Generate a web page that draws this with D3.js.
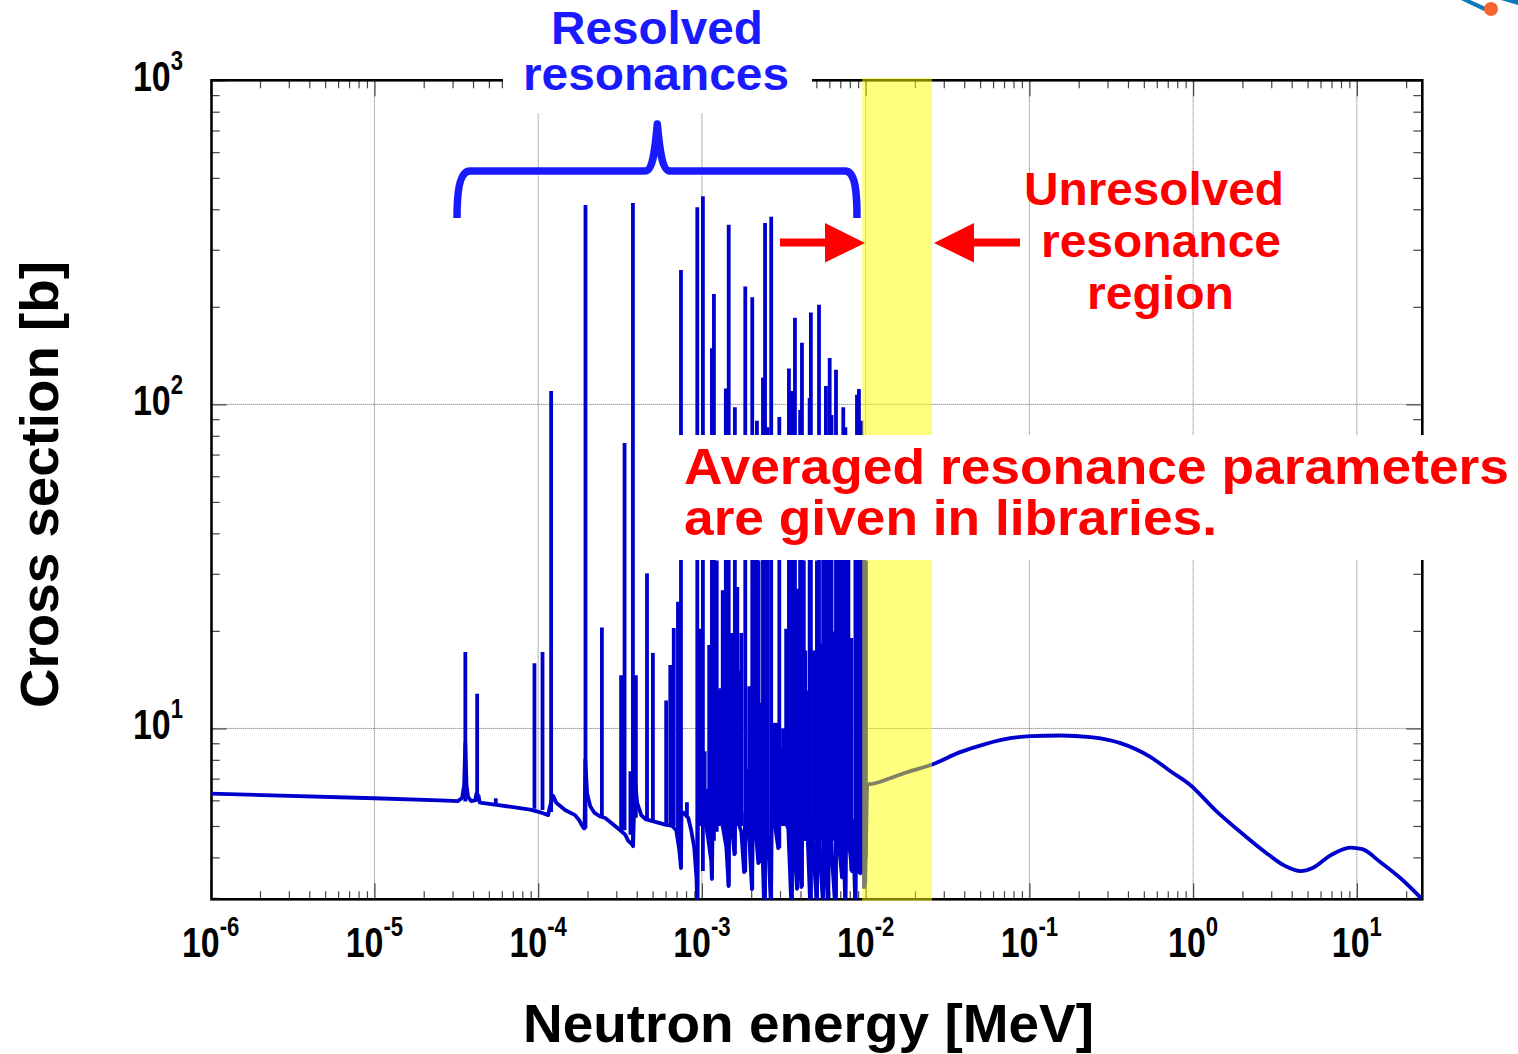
<!DOCTYPE html>
<html>
<head>
<meta charset="utf-8">
<title>Neutron cross section</title>
<script src="https://cdn.jsdelivr.net/npm/d3@7"></script>
<style>
	html, body { margin: 0; padding: 0; background: #fff; }
	svg { display: block; }
	text { font-family: "Liberation Sans", Arial, sans-serif; font-weight: bold; }
</style>
</head>
<body>
<svg id="chart" width="1518" height="1054"></svg>
<script>
// tick labels, as powers of ten
var xTickPowers = [-6, -5, -4, -3, -2, -1, 0, 1];
var yTickPowers = [1, 2, 3];

// energy band of the unresolved resonance region [MeV]
var unresolvedBand = [9.53e-3, 2.54e-2];

// resolved range of the curve, with the shoulders and the approach to each dip
var curveEnergy = [
	1e-6, 1e-5, 2.51e-5, 3.24e-5, 3.43e-5, 3.53e-5, 3.59e-5, 3.65e-5, 3.73e-5, 3.90e-5, 4.12e-5, 4.2e-5, 4.32e-5, 4.4e-5,
	5.45e-5, 8.93e-5, 9.8e-5, 1.04e-4, 1.151e-4, 1.175e-4, 1.235e-4, 1.29e-4, 1.46e-4, 1.68e-4, 1.78e-4, 1.86e-4,
	1.9e-4, 1.92e-4, 1.94e-4, 1.99e-4, 2.08e-4, 2.2e-4, 2.39e-4, 2.57e-4, 3.17e-4, 3.4e-4, 3.55e-4, 3.72e-4, 3.8e-4,
	3.9e-4, 4.02e-4, 4.26e-4, 4.52e-4, 5.19e-4, 5.97e-4, 6.59e-4, 6.97e-4, 7.28e-4, 7.45e-4, 7.5e-4, 7.69e-4, 8.25e-4,
	8.6e-4, 8.97e-4, 9.25e-4, 9.39e-4, 9.45e-4, 1.03e-3, 1.09e-3, 1.14e-3, 1.151e-3, 1.165e-3, 1.33e-3, 1.41e-3,
	1.455e-3, 1.47e-3, 1.554e-3, 1.58e-3, 1.6e-3, 1.74e-3, 1.81e-3, 1.84e-3, 1.945e-3, 2.02e-3, 2.05e-3, 2.15e-3,
	2.21e-3, 2.25e-3, 2.335e-3, 2.4e-3, 2.43e-3, 2.54e-3, 2.64e-3, 2.67e-3, 2.8e-3, 2.925e-3, 2.97e-3, 3.18e-3, 3.37e-3,
	3.52e-3, 3.57e-3, 3.81e-3, 3.85e-3, 4.05e-3, 4.1e-3, 4.4e-3, 4.59e-3, 4.66e-3, 5.04e-3, 5.1e-3, 5.5e-3, 5.6e-3,
	5.9e-3, 6e-3, 6.52e-3, 6.62e-3, 7.17e-3, 7.25e-3, 7.52e-3, 7.62e-3, 8.25e-3, 8.34e-3, 8.66e-3, 8.76e-3, 9.28e-3,
	9.42e-3, 9.94e-3, 1.02e-2
];
var curveSigma = [
	6.29, 6.09, 6.0, 5.97, 6.1, 6.68, 9, 6.7, 6.15, 5.97, 6.0, 6.3, 6.2, 5.9,
	5.82, 5.62, 5.55, 5.5, 5.4, 5.7, 6.2, 5.9, 5.6, 5.4, 5.21, 5.0,
	4.92, 4.92, 8, 6.3, 5.75, 5.5, 5.35, 5.29, 4.85, 4.7, 4.5, 4.4, 4.33,
	7, 5.9, 5.4, 5.25, 5.15, 5.05, 5.0, 4.85, 4.2, 3.71, 5.4, 5.5, 5.3,
	4.85, 4.3, 3.5, 2.8, 5.5, 5.5, 4.6, 3.9, 3.43, 5.5, 5.1, 4.3,
	3.26, 5.5, 4.5, 4.09, 5.5, 4.8, 3.6, 5.5, 4.6, 3.19, 5.4, 4.6,
	3.84, 5.4, 4.5, 2.8, 5.4, 4.5, 2.8, 5.6, 5.0, 4.27, 6.0, 5.3, 4.9,
	2.8, 5.4, 3.2, 5.4, 3.24, 5.4, 5.0, 2.8, 5.4, 2.8, 5.4, 2.8, 5.4,
	2.8, 5.4, 2.8, 5.4, 3.47, 5.4, 2.8, 5.4, 3.63, 5.2, 2.8, 5.2, 3.57,
	5.2, 3.32, 6.75
];

// smooth range above the resonances
var smoothEnergy = [
	1.02e-2, 1.037e-2, 1.41e-2, 1.745e-2, 2.55e-2, 3.78e-2, 5.37e-2, 7.65e-2, 1.014e-1, 1.55e-1,
	2.36e-1, 3.6e-1, 5.5e-1, 7.27e-1, 9.64e-1, 1.37, 1.945, 2.76, 3.66, 4.53, 5.36, 6.9, 9.15, 10.8, 13.9, 18.5, 25.1
];
var smoothSigma = [
	6.75, 6.73, 7.02, 7.30, 7.74, 8.45, 8.95, 9.33, 9.47, 9.51,
	9.40, 9.01, 8.16, 7.38, 6.68, 5.59, 4.79, 4.15, 3.76, 3.63, 3.71, 4.06, 4.29, 4.24, 3.87, 3.45, 2.97
];

// resolved resonances: energy [MeV], top of the peak and foot of the stem [b]
var resonanceEnergy = [
	3.59e-5, 4.24e-5, 5.51e-5, 9.49e-5, 1.063e-4, 1.2e-4, 1.945e-4, 2.45e-4, 3.21e-4, 3.37e-4, 3.66e-4, 3.79e-4, 3.95e-4,
	4.62e-4, 5.02e-4, 6.05e-4, 6.41e-4, 6.73e-4, 7.14e-4, 7.45e-4, 8.1e-4, 9.37e-4, 9.66e-4, 1.014e-3, 1.108e-3, 1.151e-3,
	1.184e-3, 1.294e-3, 1.34e-3, 1.40e-3, 1.458e-3, 1.525e-3, 1.59e-3, 1.645e-3, 1.74e-3, 1.84e-3, 1.945e-3, 2.03e-3,
	2.168e-3, 2.27e-3, 2.36e-3, 2.43e-3, 2.52e-3, 2.65e-3, 2.80e-3, 2.97e-3, 3.09e-3, 3.27e-3, 3.40e-3, 3.547e-3, 3.70e-3,
	3.82e-3, 3.98e-3, 4.083e-3, 4.28e-3, 4.55e-3, 4.63e-3, 4.84e-3, 5.04e-3, 5.19e-3, 5.36e-3, 5.5e-3, 5.72e-3, 5.9e-3,
	6.03e-3, 6.19e-3, 6.34e-3, 6.59e-3, 6.80e-3, 7e-3, 7.3e-3, 7.52e-3, 7.85e-3, 8.18e-3, 8.66e-3, 8.854e-3, 9.1e-3,
	9.28e-3, 9.42e-3, 9.63e-3, 9.79e-3, 1.004e-2,
	1.232e-3, 1.69e-3, 2.1e-3, 2.22e-3, 2.88e-3, 4.19e-3, 4.4e-3, 1.04e-3, 1.07e-3, 1.263e-3, 1.906e-3, 2.71e-3, 3.13e-3
];
var resonanceTop = [
	17.2, 12.8, 6.09, 15.9, 17.2, 110, 412, 20.5, 14.6, 76, 7.38, 418, 14.6,
	30.1, 17.1, 12.2, 15.7, 20.4, 24.6, 260, 5.92, 406, 20.3, 439, 18.1, 149,
	219, 13.3, 26.7, 112, 358, 19.7, 98, 27.3, 19.7, 231, 13.5, 214,
	89, 12, 121, 363, 85, 379, 10.4, 91.4, 8.7, 20.3, 129, 110, 185,
	27, 96, 155, 17.4, 104.6, 192, 17.4, 33, 203, 18.3, 35, 114, 60,
	139, 92.7, 19.9, 128, 40, 40, 98, 85, 40, 19, 40, 107, 111.5,
	60, 89, 40, 40, 33,
	33, 15.1, 40, 33, 10.4, 33, 13.1, 8.5, 6.5, 13, 7.5, 10.4, 10
];
var resonanceFoot = [
	5.95, 5.95, 5.8, 5.65, 5.6, 5.52, 4.92, 5.3, 4.8, 4.85, 4.7, 4.33, 5.3,
	5.25, 5.2, 5.1, 5.05, 5.0, 4.6, 3.71, 5.3, 2.8, 5.0, 3.63, 4.5, 3.43,
	4.5, 5.0, 5.0, 4.5, 3.26, 4.8, 4.09, 5.0, 5.0, 3.6, 4.5, 3.19,
	4.4, 3.84, 4.0, 2.8, 4.0, 2.8, 5.0, 4.27, 5.0, 5.0, 4.5, 2.8, 4.0,
	3.2, 4.0, 3.24, 4.5, 3.9, 2.8, 4.5, 2.8, 4.0, 4.5, 2.8, 4.0, 2.8,
	4.0, 4.0, 4.5, 2.8, 4.5, 4.5, 3.47, 2.8, 4.5, 3.63, 2.8, 4.0, 3.57,
	3.57, 4.0, 3.6, 3.2, 4.0,
	4.8, 5.0, 4.5, 4.5, 5.0, 4.5, 4.5, 5.0, 5.0, 5.0, 5.0, 5.0, 5.0
];

var svg = d3.select("#chart");

var margin = {top: 80.3, right: 1422.3, bottom: 899.3, left: 210.7};

var xScale = d3.scaleLog().domain([1e-6, 25.1]).range([margin.left, margin.right]);
var yScale = d3.scaleLog().domain([2.97, 1000]).range([margin.bottom, margin.top]);

/**
* grid lines on the decades
* @returns {undefined}
*/
var drawGrid = function() {
	var grid = svg.append("g")
		.attr("stroke", "#666")
		.attr("stroke-width", 1)
		.attr("stroke-dasharray", "1 1");

	grid.selectAll(".grid-x")
		.data(xTickPowers.slice(1))
		.enter()
		.append("line")
		.attr("x1", function(d) { return xScale(Math.pow(10, d)); })
		.attr("x2", function(d) { return xScale(Math.pow(10, d)); })
		.attr("y1", margin.top)
		.attr("y2", margin.bottom);

	grid.selectAll(".grid-y")
		.data(yTickPowers.slice(0, 2))
		.enter()
		.append("line")
		.attr("x1", margin.left)
		.attr("x2", margin.right)
		.attr("y1", function(d) { return yScale(Math.pow(10, d)); })
		.attr("y2", function(d) { return yScale(Math.pow(10, d)); });
};

/**
* inward ticks on the four sides of the frame
* @returns {undefined}
*/
var drawAxes = function() {
	var decadeMarks = [2, 3, 4, 5, 6, 7, 8, 9];
	var xMajor = [], xMinor = [], yMajor = [], yMinor = [];

	xTickPowers.forEach(function(p) {
		xMajor.push(Math.pow(10, p));
		decadeMarks.forEach(function(m) {
			if (m * Math.pow(10, p) < xScale.domain()[1]) {
				xMinor.push(m * Math.pow(10, p));
			}
		});
	});
	[0].concat(yTickPowers).forEach(function(p) {
		if (p > 0) {
			yMajor.push(Math.pow(10, p));
		}
		decadeMarks.forEach(function(m) {
			var v = m * Math.pow(10, p);
			if (v > yScale.domain()[0] && v < yScale.domain()[1]) {
				yMinor.push(v);
			}
		});
	});

	var addAxis = function(axis, transform, ticks, size) {
		var g = svg.append("g")
			.attr("transform", transform)
			.call(axis.tickValues(ticks).tickSize(size).tickFormat(""));
		g.select(".domain").remove();
		g.selectAll("line").attr("stroke", "#444").attr("stroke-width", 1.2);
	};

	addAxis(d3.axisBottom(xScale), "translate(0," + margin.bottom + ")", xMinor, -8);
	addAxis(d3.axisBottom(xScale), "translate(0," + margin.bottom + ")", xMajor, -16);
	addAxis(d3.axisTop(xScale), "translate(0," + margin.top + ")", xMinor, -8);
	addAxis(d3.axisTop(xScale), "translate(0," + margin.top + ")", xMajor, -16);
	addAxis(d3.axisLeft(yScale), "translate(" + margin.left + ",0)", yMinor, -9);
	addAxis(d3.axisLeft(yScale), "translate(" + margin.left + ",0)", yMajor, -16);
	addAxis(d3.axisRight(yScale), "translate(" + margin.right + ",0)", yMinor, -9);
	addAxis(d3.axisRight(yScale), "translate(" + margin.right + ",0)", yMajor, -16);

	// the frame's left edge sits a little inside the first decade
	svg.append("rect")
		.attr("x", margin.left + 0.8)
		.attr("y", margin.top)
		.attr("width", margin.right - margin.left - 0.8)
		.attr("height", margin.bottom - margin.top)
		.attr("fill", "none")
		.attr("stroke", "#000")
		.attr("stroke-width", 2.6);
};

/**
* cross section: the lines and a vertical stem per resonance
* @returns {undefined}
*/
var drawCurve = function() {
	svg.append("clipPath")
		.attr("id", "plot-clip")
		.append("rect")
		.attr("x", margin.left)
		.attr("y", margin.top)
		.attr("width", margin.right - margin.left)
		.attr("height", margin.bottom - margin.top);

	var plot = svg.append("g").attr("clip-path", "url(#plot-clip)");

	var curveLine = d3.line()
		.x(function(d) { return xScale(d); })
		.y(function(d, i) { return yScale(curveSigma[i]); });

	var smoothLine = d3.line()
		.curve(d3.curveMonotoneX)
		.x(function(d) { return xScale(d); })
		.y(function(d, i) { return yScale(smoothSigma[i]); });

	plot.append("path")
		.datum(curveEnergy)
		.attr("fill", "none")
		.attr("stroke", "#0000cc")
		.attr("stroke-width", 3.8)
		.attr("stroke-linejoin", "round")
		.attr("d", curveLine);

	plot.append("path")
		.datum(smoothEnergy)
		.attr("fill", "none")
		.attr("stroke", "#0000cc")
		.attr("stroke-width", 3.8)
		.attr("d", smoothLine);

	plot.selectAll(".stem")
		.data(resonanceEnergy)
		.enter()
		.append("line")
		.attr("class", "stem")
		.attr("x1", function(d) { return xScale(d); })
		.attr("x2", function(d) { return xScale(d); })
		.attr("y1", function(d, i) { return yScale(resonanceFoot[i]); })
		.attr("y2", function(d, i) { return yScale(resonanceTop[i]); })
		.attr("stroke", "#0000cc")
		.attr("stroke-width", 3.8);
};

/**
* yellow band and the white boxes that sit behind the annotations
* @returns {undefined}
*/
var drawOverlays = function() {
	svg.append("rect")
		.attr("x", xScale(unresolvedBand[0]))
		.attr("y", 78)
		.attr("width", xScale(unresolvedBand[1]) - xScale(unresolvedBand[0]))
		.attr("height", 823)
		.attr("fill", "#ffff00")
		.attr("fill-opacity", 0.5);

	svg.append("rect").attr("x", 503).attr("y", 0).attr("width", 309).attr("height", 113).attr("fill", "#fff");
	svg.append("rect").attr("x", 678).attr("y", 435).attr("width", 840).attr("height", 125).attr("fill", "#fff");
};

/**
* one "10^n" label, squeezed horizontally like the reference
* @returns {undefined}
*/
var addPowerLabel = function(x, y, power, anchor) {
	var label = svg.append("text")
		.attr("transform", "translate(" + x + "," + y + ") scale(0.79,1)")
		.attr("text-anchor", anchor)
		.attr("font-size", 43)
		.attr("fill", "#000");
	label.append("tspan").text("10");
	label.append("tspan")
		.attr("font-size", 28)
		.attr("dy", -21)
		.text(power);
};

/**
* text fitted to the width measured in the reference
* @returns {undefined}
*/
var addText = function(str, x, y, width, size, color) {
	return svg.append("text")
		.attr("x", x)
		.attr("y", y)
		.attr("font-size", size)
		.attr("fill", color)
		.attr("textLength", width)
		.attr("lengthAdjust", "spacingAndGlyphs")
		.text(str);
};

var drawLabels = function() {
	xTickPowers.forEach(function(p) {
		addPowerLabel(xScale(Math.pow(10, p)), 957, p, "middle");
	});
	yTickPowers.forEach(function(p) {
		addPowerLabel(183, yScale(Math.pow(10, p)) + 11, p, "end");
	});

	addText("Neutron energy [MeV]", 523, 1042, 571, 54, "#000");

	svg.append("text")
		.attr("transform", "translate(58,708) rotate(-90)")
		.attr("font-size", 54)
		.attr("textLength", 447)
		.attr("lengthAdjust", "spacingAndGlyphs")
		.attr("fill", "#000")
		.text("Cross section [b]");

	addText("Resolved", 551, 44, 212, 46, "#1a1aff");
	addText("resonances", 523, 90, 266, 46, "#1a1aff");
	addText("Unresolved", 1024, 205, 260, 46, "#ff0000");
	addText("resonance", 1041, 257, 240, 46, "#ff0000");
	addText("region", 1087, 309, 147, 46, "#ff0000");
	addText("Averaged resonance parameters", 684, 484, 825, 50, "#ff0000");
	addText("are given in libraries.", 684, 535, 533, 50, "#ff0000");
};

/**
* brace, arrows and the bit of logo in the corner
* @returns {undefined}
*/
var drawAnnotations = function() {
	svg.append("path")
		.attr("d", "M457,218 C457,195 459,171 470,171 L645,171 C653,171 655,150 657.3,124 C659.7,150 662,171 670,171 L845,171 C856,171 857,195 857,218")
		.attr("fill", "none")
		.attr("stroke", "#1a1aff")
		.attr("stroke-width", 7.5)
		.attr("stroke-linejoin", "round");

	svg.append("path")
		.attr("d", "M780,238.5 H825 V223 L865,243 L825,262.5 V246.5 H780 Z")
		.attr("fill", "#ff0000");
	svg.append("path")
		.attr("d", "M1020,238.5 H974 V223 L934,243 L974,262.5 V246.5 H1020 Z")
		.attr("fill", "#ff0000");

	svg.append("path").attr("d", "M1461,0 L1470,0 L1488,8 L1484,11 Z").attr("fill", "#0a79bd");
	svg.append("path").attr("d", "M1501,0 L1518,0 L1518,5 Z").attr("fill", "#0a79bd");
	svg.append("circle").attr("cx", 1491).attr("cy", 9).attr("r", 7).attr("fill", "#f96332");
};

drawGrid();
drawAxes();
drawCurve();
drawOverlays();
drawLabels();
drawAnnotations();
</script>
</body>
</html>
